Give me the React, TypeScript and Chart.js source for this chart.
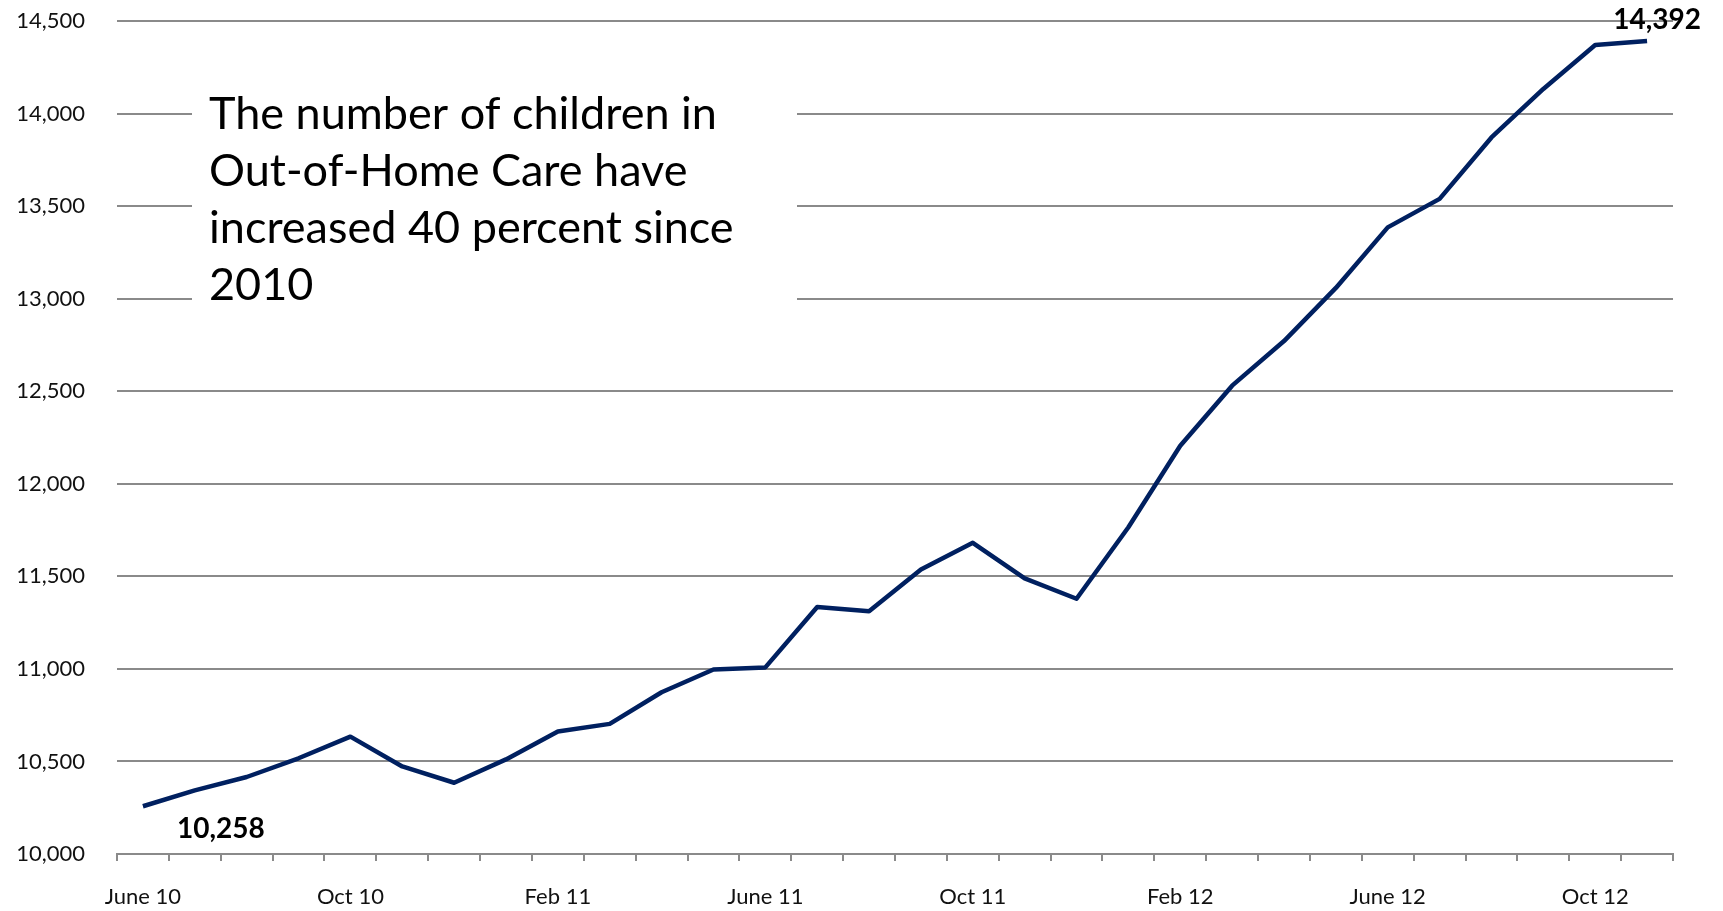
import { useEffect, useRef } from 'react';
import { Chart, registerables } from 'chart.js';

Chart.register(...registerables);

const months = [
  'June 10', 'July 10', 'Aug 10', 'Sept 10', 'Oct 10', 'Nov 10', 'Dec 10',
  'Jan 11', 'Feb 11', 'Mar 11', 'Apr 11', 'May 11', 'June 11', 'July 11',
  'Aug 11', 'Sept 11', 'Oct 11', 'Nov 11', 'Dec 11', 'Jan 12', 'Feb 12',
  'Mar 12', 'Apr 12', 'May 12', 'June 12', 'July 12', 'Aug 12', 'Sept 12',
  'Oct 12', 'Nov 12',
];

const children = [
  10258, 10344, 10416, 10517, 10634, 10473, 10385, 10511, 10662, 10703,
  10874, 10997, 11008, 11334, 11312, 11537, 11681, 11489, 11379, 11765,
  12205, 12530, 12771, 13058, 13385, 13539, 13871, 14133, 14370, 14392,
];

const tickEvery = 4;
const yMin = 10000;
const yMax = 14500;
const yStep = 500;

const calloutIndices = [0, 29];

const annotationLines = [
  'The number of children in',
  'Out-of-Home Care have',
  'increased 40 percent since',
  '2010',
];

const FONT = 'Lato, "Open Sans", sans-serif';
const fmt = (v: number) => v.toLocaleString('en-US');

const overlayPlugin = {
  id: 'overlay',
  beforeDatasetsDraw(chart: any) {
    const { ctx } = chart;
    ctx.save();
    ctx.fillStyle = '#ffffff';
    ctx.fillRect(192, 70, 605, 250);
    ctx.fillStyle = '#000000';
    ctx.font = `45px ${FONT}`;
    ctx.textBaseline = 'middle';
    ctx.textAlign = 'left';
    annotationLines.forEach((t, i) => ctx.fillText(t, 209, 114 + i * 57));
    ctx.restore();
  },
  afterDatasetsDraw(chart: any) {
    const { ctx } = chart;
    const meta = chart.getDatasetMeta(0);
    ctx.save();
    ctx.fillStyle = '#000000';
    ctx.font = `bold 28px ${FONT}`;
    ctx.textBaseline = 'middle';
    ctx.textAlign = 'center';
    calloutIndices.forEach((idx) => {
      const pt = meta.data[idx];
      const first = idx === 0;
      const dx = first ? 78 : 10;
      const dy = first ? 23 : -21;
      ctx.fillText(fmt(children[idx]), pt.x + dx, pt.y + dy);
    });
    ctx.restore();
  },
};

export default function App() {
  const ref = useRef<HTMLCanvasElement | null>(null);

  useEffect(() => {
    if (!ref.current) return;
    const chart = new Chart(ref.current, {
      type: 'line',
      data: {
        labels: months,
        datasets: [
          {
            data: children,
            borderColor: '#002060',
            borderWidth: 4.5,
            pointRadius: 0,
            tension: 0,
            fill: false,
            borderJoinStyle: 'round',
          },
        ],
      },
      options: {
        responsive: false,
        animation: false,
        layout: { padding: { top: 21, right: 50, left: 0, bottom: 0 } },
        plugins: {
          legend: { display: false },
          tooltip: { enabled: false },
        },
        scales: {
          x: {
            offset: true,
            grid: {
              offset: true,
              drawOnChartArea: false,
              drawTicks: true,
              tickLength: 7,
              color: '#8a8a8a',
              lineWidth: 2,
            },
            border: { display: true, color: '#8a8a8a', width: 2 },
            ticks: {
              autoSkip: false,
              maxRotation: 0,
              minRotation: 0,
              padding: 23,
              color: '#111111',
              font: { family: FONT, size: 22 },
              callback: (_v: any, i: number) => (i % tickEvery === 0 ? months[i] : ''),
            },
            afterFit: (s: any) => {
              s.height = 57;
            },
          },
          y: {
            min: yMin,
            max: yMax,
            grid: {
              color: '#8a8a8a',
              lineWidth: 2,
              drawTicks: false,
            },
            border: { display: false },
            ticks: {
              stepSize: yStep,
              padding: 32,
              color: '#111111',
              font: { family: FONT, size: 22 },
              callback: (v: any) => fmt(Number(v)),
            },
            afterFit: (s: any) => {
              s.width = 117;
              s.paddingTop = 0;
              s.paddingBottom = 0;
            },
          },
        },
      },
      plugins: [overlayPlugin],
    });
    return () => chart.destroy();
  }, []);

  return (
    <div style={{ position: 'fixed', left: 0, top: 0, width: 1723, height: 911, background: '#fff' }}>
      <canvas ref={ref} width={1723} height={911} />
    </div>
  );
}
